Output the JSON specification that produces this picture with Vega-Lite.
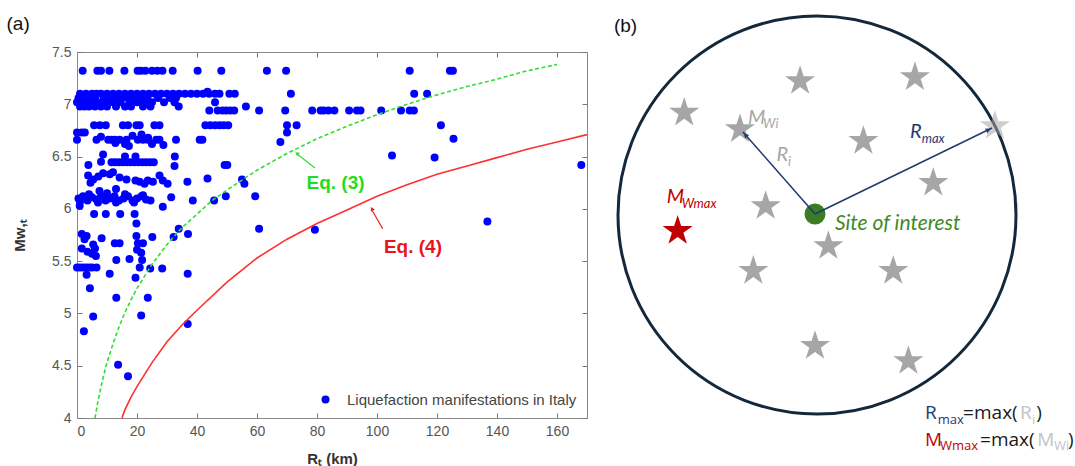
{
"$schema": "https://vega.github.io/schema/vega-lite/v6.json",
"padding": {"left": 6, "top": 10, "right": 0, "bottom": 0},
"background": "white",
"bounds": "flush",
"spacing": 18,
"resolve": {"scale": {"color": "independent"}, "legend": {"color": "independent"}},
"config": {"view": {"stroke": null}, "font": "Liberation Sans"},
"datasets": {
"pts": [
{"r":1.9,"m":7.32},{"r":6.8,"m":7.32},{"r":8.0,"m":7.32},{"r":10.8,"m":7.32},{"r":15.8,"m":7.32},{"r":20.2,"m":7.32},{"r":21.3,"m":7.32},{"r":22.8,"m":7.32},{"r":25.0,"m":7.32},{"r":26.8,"m":7.32},{"r":28.5,"m":7.32},{"r":31.9,"m":7.32},{"r":40.2,"m":7.32},{"r":48.1,"m":7.32},{"r":63.3,"m":7.32},{"r":69.7,"m":7.32},{"r":110.9,"m":7.32},{"r":124.3,"m":7.32},{"r":125.3,"m":7.32},
{"r":43.5,"m":7.12},
{"r":1,"m":7.1},{"r":3,"m":7.1},{"r":5,"m":7.1},{"r":6.5,"m":7.1},{"r":8,"m":7.1},{"r":10,"m":7.1},{"r":12,"m":7.1},{"r":14,"m":7.1},{"r":16,"m":7.1},{"r":18,"m":7.1},{"r":20,"m":7.1},{"r":22,"m":7.1},{"r":24,"m":7.1},{"r":26,"m":7.1},{"r":28,"m":7.1},{"r":30,"m":7.1},{"r":32,"m":7.1},{"r":34,"m":7.1},{"r":36,"m":7.1},{"r":38,"m":7.1},{"r":40,"m":7.1},{"r":42,"m":7.1},{"r":44,"m":7.1},{"r":46,"m":7.1},{"r":47.5,"m":7.1},{"r":50.8,"m":7.1},{"r":52.6,"m":7.1},{"r":71.3,"m":7.1},{"r":112.4,"m":7.1},{"r":116.7,"m":7.1},
{"r":0.5,"m":7.06},{"r":2,"m":7.06},{"r":4,"m":7.06},{"r":6,"m":7.06},{"r":9,"m":7.06},{"r":11,"m":7.06},{"r":13,"m":7.06},{"r":15,"m":7.06},{"r":17,"m":7.06},{"r":19,"m":7.06},{"r":21,"m":7.06},{"r":23.5,"m":7.06},{"r":27,"m":7.06},{"r":31,"m":7.06},{"r":33,"m":7.06},
{"r":0,"m":7.02},{"r":1.5,"m":7.02},{"r":3,"m":7.02},{"r":5,"m":7.02},{"r":7,"m":7.02},{"r":9.5,"m":7.02},{"r":12,"m":7.02},{"r":14.5,"m":7.02},{"r":17.5,"m":7.02},{"r":20,"m":7.02},{"r":22.5,"m":7.02},{"r":25,"m":7.02},{"r":29,"m":7.02},{"r":32.5,"m":7.02},{"r":46,"m":7.02},
{"r":1,"m":6.98},{"r":2.5,"m":6.98},{"r":4,"m":6.98},{"r":6,"m":6.98},{"r":8,"m":6.98},{"r":10,"m":6.98},{"r":13,"m":6.98},{"r":16,"m":6.98},{"r":18,"m":6.98},{"r":22,"m":6.98},{"r":24.5,"m":6.98},{"r":33.9,"m":6.98},{"r":56.3,"m":6.98},
{"r":44.1,"m":6.94},{"r":46.9,"m":6.94},{"r":48.5,"m":6.94},{"r":49.8,"m":6.94},{"r":51.1,"m":6.94},{"r":52.4,"m":6.94},{"r":60.7,"m":6.94},{"r":69.4,"m":6.94},{"r":78.4,"m":6.94},{"r":81.2,"m":6.94},{"r":82.2,"m":6.94},{"r":83.8,"m":6.94},{"r":85.8,"m":6.94},{"r":90.7,"m":6.94},{"r":93.3,"m":6.94},{"r":94.5,"m":6.94},{"r":101.4,"m":6.94},{"r":108,"m":6.94},{"r":110.9,"m":6.94},{"r":112.3,"m":6.94},
{"r":5.7,"m":6.8},{"r":7.6,"m":6.8},{"r":9.6,"m":6.8},{"r":15.3,"m":6.8},{"r":17.0,"m":6.8},{"r":19.8,"m":6.8},{"r":20.9,"m":6.8},{"r":25.8,"m":6.8},{"r":27.5,"m":6.8},{"r":42.8,"m":6.8},{"r":44.4,"m":6.8},{"r":46.0,"m":6.8},{"r":47.5,"m":6.8},{"r":48.9,"m":6.8},{"r":50.4,"m":6.8},{"r":70.0,"m":6.8},{"r":73.2,"m":6.8},{"r":121.3,"m":6.8},
{"r":0,"m":6.73},{"r":1.6,"m":6.73},{"r":2.6,"m":6.73},{"r":70,"m":6.73},
{"r":0,"m":6.66},{"r":6.5,"m":6.66},{"r":10.4,"m":6.66},{"r":11.5,"m":6.66},{"r":12.6,"m":6.66},{"r":14.2,"m":6.66},{"r":16.5,"m":6.66},{"r":20.3,"m":6.66},{"r":22.0,"m":6.66},{"r":23.6,"m":6.66},{"r":26.4,"m":6.66},{"r":27.5,"m":6.66},{"r":33.0,"m":6.66},{"r":40.9,"m":6.66},{"r":41.8,"m":6.66},{"r":67.8,"m":6.64},{"r":125.5,"m":6.67},
{"r":12.8,"m":6.63},{"r":16,"m":6.62},{"r":17.3,"m":6.6},{"r":21.5,"m":6.71},{"r":23.7,"m":6.68},{"r":25,"m":6.62},{"r":28.8,"m":6.61},{"r":8,"m":6.69},{"r":18.5,"m":6.7},
{"r":8.7,"m":6.52},{"r":16,"m":6.5},{"r":19.5,"m":6.5},{"r":32.6,"m":6.5},{"r":105,"m":6.51},{"r":119.2,"m":6.49},
{"r":11.5,"m":6.445},{"r":12.7,"m":6.445},{"r":14,"m":6.445},{"r":15.3,"m":6.445},{"r":16.6,"m":6.445},{"r":17.9,"m":6.445},{"r":19.2,"m":6.445},{"r":20.5,"m":6.445},{"r":21.8,"m":6.445},{"r":23.1,"m":6.445},{"r":24.4,"m":6.445},{"r":25.6,"m":6.445},
{"r":3.8,"m":6.42},{"r":8,"m":6.45},{"r":32.5,"m":6.41},{"r":49.2,"m":6.42},{"r":50.1,"m":6.42},{"r":168.1,"m":6.42},
{"r":3.7,"m":6.32},{"r":5.4,"m":6.28},{"r":7.1,"m":6.31},{"r":8.7,"m":6.34},{"r":10.9,"m":6.33},{"r":14.2,"m":6.3},{"r":16.5,"m":6.28},{"r":20.9,"m":6.26},{"r":22.5,"m":6.24},{"r":23.6,"m":6.27},{"r":25.3,"m":6.26},{"r":27.5,"m":6.32},{"r":28.6,"m":6.27},{"r":30.2,"m":6.24},{"r":36.8,"m":6.26},{"r":43.5,"m":6.29},{"r":55,"m":6.28},{"r":55.8,"m":6.24},{"r":4.5,"m":6.25},{"r":12,"m":6.35},{"r":19.5,"m":6.27},
{"r":0.5,"m":6.1},{"r":2,"m":6.12},{"r":3.5,"m":6.08},{"r":5,"m":6.11},{"r":6.5,"m":6.09},{"r":8,"m":6.12},{"r":9.5,"m":6.08},{"r":11,"m":6.1},{"r":12.5,"m":6.12},{"r":14,"m":6.08},{"r":15.5,"m":6.1},{"r":17,"m":6.12},{"r":18.5,"m":6.08},{"r":20,"m":6.1},{"r":21.5,"m":6.12},{"r":23,"m":6.09},{"r":24.5,"m":6.08},{"r":1,"m":6.07},{"r":4,"m":6.14},{"r":7,"m":6.06},{"r":10,"m":6.15},{"r":13,"m":6.06},{"r":16,"m":6.14},{"r":19,"m":6.06},{"r":22,"m":6.13},{"r":7.5,"m":6.17},{"r":13,"m":6.19},
{"r":31.4,"m":6.11},{"r":38.6,"m":6.08},{"r":45.7,"m":6.08},{"r":49.6,"m":6.12},{"r":59.4,"m":6.12},
{"r":0.9,"m":6.03},{"r":28.6,"m":6.02},
{"r":5.7,"m":5.95},{"r":9.6,"m":5.95},{"r":14.4,"m":5.95},{"r":19.2,"m":5.95},
{"r":19.8,"m":5.86},{"r":33.9,"m":5.81},{"r":60.7,"m":5.81},{"r":79.3,"m":5.8},{"r":136.8,"m":5.88},{"r":37,"m":5.76},{"r":32.2,"m":5.73},
{"r":1.6,"m":5.76},{"r":3.2,"m":5.74},{"r":2.5,"m":5.71},{"r":5.4,"m":5.66},{"r":6,"m":5.62},{"r":8.2,"m":5.72},{"r":12.6,"m":5.67},{"r":14.2,"m":5.67},{"r":19.8,"m":5.74},{"r":20.3,"m":5.67},{"r":22,"m":5.67},{"r":25.1,"m":5.73},
{"r":1.6,"m":5.62},{"r":3.5,"m":5.59},{"r":5,"m":5.57},{"r":6.3,"m":5.55},{"r":20,"m":5.61},{"r":21.4,"m":5.58},
{"r":0,"m":5.44},{"r":1,"m":5.44},{"r":2,"m":5.44},{"r":3,"m":5.44},{"r":4,"m":5.44},{"r":5,"m":5.44},{"r":6.5,"m":5.44},{"r":3.2,"m":5.37},{"r":10.9,"m":5.38},{"r":13.1,"m":5.51},{"r":17.5,"m":5.52},{"r":19.5,"m":5.34},{"r":20.9,"m":5.44},{"r":21.7,"m":5.51},{"r":24.4,"m":5.43},{"r":28.4,"m":5.43},{"r":36.9,"m":5.38},
{"r":4.3,"m":5.24},{"r":13.1,"m":5.15},{"r":23.6,"m":5.15},{"r":5.4,"m":4.97},{"r":21.4,"m":4.98},{"r":2.3,"m":4.83},{"r":36.9,"m":4.9},{"r":13.7,"m":4.51},{"r":17,"m":4.4}
],
"eq3": [
{"r":6,"m":4.0},{"r":7,"m":4.16},{"r":8,"m":4.3},{"r":9,"m":4.42},{"r":10,"m":4.53},{"r":12,"m":4.71},{"r":14,"m":4.87},{"r":16,"m":5.01},{"r":18,"m":5.13},{"r":20,"m":5.24},{"r":25,"m":5.47},{"r":30,"m":5.66},{"r":35,"m":5.82},{"r":40,"m":5.95},{"r":45,"m":6.08},{"r":50,"m":6.18},{"r":60,"m":6.37},{"r":70,"m":6.53},{"r":80,"m":6.67},{"r":90,"m":6.79},{"r":100,"m":6.9},{"r":110,"m":7.0},{"r":120,"m":7.09},{"r":130,"m":7.17},{"r":140,"m":7.24},{"r":150,"m":7.32},{"r":160,"m":7.38}
],
"eq4": [
{"r":15,"m":4.0},{"r":16,"m":4.08},{"r":18,"m":4.2},{"r":20,"m":4.3},{"r":25,"m":4.53},{"r":30,"m":4.73},{"r":35,"m":4.89},{"r":40,"m":5.03},{"r":50,"m":5.3},{"r":60,"m":5.53},{"r":70,"m":5.71},{"r":80,"m":5.86},{"r":90,"m":5.99},{"r":100,"m":6.12},{"r":110,"m":6.23},{"r":120,"m":6.33},{"r":130,"m":6.41},{"r":140,"m":6.49},{"r":150,"m":6.57},{"r":160,"m":6.64},{"r":170,"m":6.71}
],
"arr3": [{"r":79.3,"m":6.39,"r2":73.6,"m2":6.52}],
"head3": [{"r":73.3,"m":6.53}],
"arr4": [{"r":101.9,"m":5.81,"r2":98.5,"m2":5.98}],
"head4": [{"r":98.3,"m":6.0}],
"lab3": [{"r":76.5,"m":6.25,"t":"Eq. (3)"}],
"lab4": [{"r":102.3,"m":5.64,"t":"Eq. (4)"}],
"ring": [{"u":0,"v":0}],
"site": [{"u":-0.01,"v":0.005}],
"stars": [
{"u":-0.085,"v":0.673},{"u":0.492,"v":0.693},{"u":-0.667,"v":0.514},{"u":-0.387,"v":0.431},{"u":0.233,"v":0.372},{"u":0.584,"v":0.162},{"u":-0.258,"v":0.045},{"u":0.057,"v":-0.156},{"u":-0.32,"v":-0.281},{"u":0.383,"v":-0.281},{"u":-0.01,"v":-0.658},{"u":0.459,"v":-0.734}
],
"edgestar": [{"u":0.894,"v":0.447}],
"maxstar": [{"u":-0.7,"v":-0.08}],
"rays": [{"u":-0.01,"v":0.005,"u2":-0.372,"v2":0.417},{"u":-0.01,"v":0.005,"u2":0.879,"v2":0.437}],
"head1": [{"u":-0.359,"v":0.402}],
"head2": [{"u":0.861,"v":0.428}],
"blab": [{"u":-1.02,"v":0.92,"t":"(b)"}],
"lab_it": [
{"u":-0.347,"v":0.457,"t":"M","c":"gray"},{"u":-0.203,"v":0.271,"t":"R","c":"gray"},{"u":0.467,"v":0.388,"t":"R","c":"navy"},{"u":-0.755,"v":0.062,"t":"M","c":"red"}
],
"site_lab": [{"u":0.09,"v":-0.077,"t":"Site of interest","c":"green"}],
"sub_it": [
{"u":-0.271,"v":0.437,"t":"Wi","c":"gray"},{"u":-0.146,"v":0.246,"t":"i","c":"gray"},{"u":0.526,"v":0.363,"t":"max","c":"navy"},{"u":-0.68,"v":0.037,"t":"Wmax","c":"red"}
],
"lab_n": [
{"u":0.543,"v":-1.025,"t":"R","c":"navy"},{"u":0.734,"v":-1.025,"t":"=max(","c":"black"},{"u":1.02,"v":-1.025,"t":"R","c":"light"},{"u":1.101,"v":-1.025,"t":")","c":"black"},
{"u":0.543,"v":-1.161,"t":"M","c":"red"},{"u":0.819,"v":-1.161,"t":"=max(","c":"black"},{"u":1.106,"v":-1.161,"t":"M","c":"light"},{"u":1.261,"v":-1.161,"t":")","c":"black"}
],
"sub_n": [
{"u":0.606,"v":-1.05,"t":"max","c":"navy"},{"u":1.08,"v":-1.05,"t":"i","c":"light"},{"u":0.618,"v":-1.181,"t":"Wmax","c":"red"},{"u":1.191,"v":-1.181,"t":"Wi","c":"light"}
]
},
"hconcat": [
{
"width": 510, "height": 366,
"title": {"text": "(a)", "anchor": "start", "frame": "bounds", "fontSize": 19, "fontWeight": "normal", "font": "Liberation Sans", "color": "#111", "offset": 11, "dx": -6},
"resolve": {"axis": {"x": "independent", "y": "independent"}},
"layer": [
{
"data": {"name": "pts"},
"mark": {"type": "point", "filled": true, "size": 64, "opacity": 1},
"encoding": {
"x": {"field": "r", "type": "quantitative", "scale": {"domain": [0, 170], "nice": false, "zero": false},
 "axis": {"orient": "bottom", "values": [0,20,40,60,80,100,120,140,160], "title": "Rₜ (km)", "titleFont": "Liberation Sans", "titleFontSize": 15, "titleFontWeight": "bold", "titleColor": "#333", "labelFont": "Liberation Sans", "labelFontSize": 14, "labelColor": "#555", "tickSize": -5, "tickColor": "#777", "domainColor": "#888", "labelPadding": 11, "titlePadding": 13, "grid": false}},
"y": {"field": "m", "type": "quantitative", "scale": {"domain": [4, 7.5], "nice": false, "zero": false},
 "axis": {"orient": "left", "values": [4,4.5,5,5.5,6,6.5,7,7.5], "format": "~g", "title": "Mᴡ,ₜ", "titleFont": "Liberation Sans", "titleFontSize": 15, "titleFontWeight": "bold", "titleColor": "#333", "labelFont": "Liberation Sans", "labelFontSize": 14, "labelColor": "#555", "tickSize": -5, "tickColor": "#777", "domainColor": "#888", "labelPadding": 11, "titlePadding": 24, "grid": false}},
"color": {"datum": "Liquefaction manifestations in Italy", "scale": {"range": ["#0000ff"]},
 "legend": {"orient": "bottom-right", "title": null, "labelFont": "Liberation Sans", "labelFontSize": 15, "labelColor": "#444", "labelLimit": 400, "symbolSize": 64, "symbolType": "circle", "labelOffset": 14, "offset": 7, "padding": 3}}
}
},
{
"data": {"name": "eq3"},
"mark": {"type": "line", "color": "#2ee02e", "strokeWidth": 1.6, "strokeDash": [4, 2.5]},
"encoding": {
"x": {"field": "r", "type": "quantitative", "axis": {"orient": "top", "values": [0,20,40,60,80,100,120,140,160], "labels": false, "title": null, "tickSize": -5, "tickColor": "#777", "domainColor": "#888", "grid": false}},
"y": {"field": "m", "type": "quantitative", "axis": {"orient": "right", "values": [4,4.5,5,5.5,6,6.5,7,7.5], "labels": false, "title": null, "tickSize": -5, "tickColor": "#777", "domainColor": "#888", "grid": false}}
}
},
{
"data": {"name": "eq4"},
"mark": {"type": "line", "color": "#ff3030", "strokeWidth": 1.6},
"encoding": {"x": {"field": "r", "type": "quantitative", "axis": null}, "y": {"field": "m", "type": "quantitative", "axis": null}}
},
{
"data": {"name": "arr3"},
"mark": {"type": "rule", "color": "#2ee02e", "strokeWidth": 1.2},
"encoding": {"x": {"field": "r", "type": "quantitative", "axis": null}, "y": {"field": "m", "type": "quantitative", "axis": null}, "x2": {"field": "r2"}, "y2": {"field": "m2"}}
},
{
"data": {"name": "head3"},
"mark": {"type": "point", "shape": "triangle-up", "filled": true, "size": 22, "angle": 308, "color": "#2ee02e", "opacity": 1},
"encoding": {"x": {"field": "r", "type": "quantitative", "axis": null}, "y": {"field": "m", "type": "quantitative", "axis": null}}
},
{
"data": {"name": "arr4"},
"mark": {"type": "rule", "color": "#ee1c1c", "strokeWidth": 1.2},
"encoding": {"x": {"field": "r", "type": "quantitative", "axis": null}, "y": {"field": "m", "type": "quantitative", "axis": null}, "x2": {"field": "r2"}, "y2": {"field": "m2"}}
},
{
"data": {"name": "head4"},
"mark": {"type": "point", "shape": "triangle-up", "filled": true, "size": 22, "angle": 330, "color": "#ee1c1c", "opacity": 1},
"encoding": {"x": {"field": "r", "type": "quantitative", "axis": null}, "y": {"field": "m", "type": "quantitative", "axis": null}}
},
{
"data": {"name": "lab3"},
"mark": {"type": "text", "font": "Liberation Sans", "fontSize": 19, "fontWeight": "bold", "color": "#22dd22", "align": "left", "baseline": "middle"},
"encoding": {"x": {"field": "r", "type": "quantitative", "axis": null}, "y": {"field": "m", "type": "quantitative", "axis": null}, "text": {"field": "t"}}
},
{
"data": {"name": "lab4"},
"mark": {"type": "text", "font": "Liberation Sans", "fontSize": 19, "fontWeight": "bold", "color": "#e8141e", "align": "left", "baseline": "middle"},
"encoding": {"x": {"field": "r", "type": "quantitative", "axis": null}, "y": {"field": "m", "type": "quantitative", "axis": null}, "text": {"field": "t"}}
}
]
},
{
"width": 470, "height": 366,
"encoding": {
"x": {"field": "u", "type": "quantitative", "scale": {"domain": [-1.065, 1.296], "nice": false, "zero": false}, "axis": null},
"y": {"field": "v", "type": "quantitative", "scale": {"domain": [-1.0201, 0.8191], "nice": false, "zero": false}, "axis": null}
},
"layer": [
{"data": {"name": "ring"}, "mark": {"type": "point", "filled": false, "size": 158404, "color": "#13283b", "strokeWidth": 3, "opacity": 1}},
{"data": {"name": "stars"}, "mark": {"type": "point", "filled": true, "size": 1000, "opacity": 1, "color": "#a6a6a6", "shape": "M0,-1L0.2245,-0.309L0.951,-0.309L0.363,0.118L0.588,0.809L0,0.382L-0.588,0.809L-0.363,0.118L-0.951,-0.309L-0.2245,-0.309Z"}},
{"data": {"name": "edgestar"}, "mark": {"type": "point", "filled": true, "size": 1000, "opacity": 0.55, "color": "#a6a6a6", "shape": "M0,-1L0.2245,-0.309L0.951,-0.309L0.363,0.118L0.588,0.809L0,0.382L-0.588,0.809L-0.363,0.118L-0.951,-0.309L-0.2245,-0.309Z"}},
{"data": {"name": "maxstar"}, "mark": {"type": "point", "filled": true, "size": 1000, "opacity": 1, "color": "#c00000", "shape": "M0,-1L0.2245,-0.309L0.951,-0.309L0.363,0.118L0.588,0.809L0,0.382L-0.588,0.809L-0.363,0.118L-0.951,-0.309L-0.2245,-0.309Z"}},
{"data": {"name": "site"}, "mark": {"type": "point", "filled": true, "size": 441, "opacity": 1, "color": "#3a7d22"}},
{"data": {"name": "rays"}, "mark": {"type": "rule", "color": "#1f3a70", "strokeWidth": 1.5}, "encoding": {"x2": {"field": "u2"}, "y2": {"field": "v2"}}},
{"data": {"name": "head1"}, "mark": {"type": "point", "shape": "triangle-up", "filled": true, "size": 30, "angle": 319, "color": "#1f3a70", "opacity": 1}},
{"data": {"name": "head2"}, "mark": {"type": "point", "shape": "triangle-up", "filled": true, "size": 30, "angle": 64, "color": "#1f3a70", "opacity": 1}},
{"data": {"name": "blab"}, "mark": {"type": "text", "font": "Liberation Sans", "fontSize": 19, "color": "#111", "align": "left", "baseline": "alphabetic"}, "encoding": {"text": {"field": "t"}}},
{"data": {"name": "lab_it"}, "mark": {"type": "text", "font": "Lato", "fontSize": 20, "fontStyle": "italic", "align": "left", "baseline": "alphabetic"},
 "encoding": {"text": {"field": "t"}, "color": {"field": "c", "type": "nominal", "scale": {"domain": ["gray","navy","red","green","black","light"], "range": ["#a6a6a6","#1f3a70","#c00000","#3f8a2a","#1a1a1a","#c4c4c4"]}, "legend": null}}},
{"data": {"name": "site_lab"}, "mark": {"type": "text", "font": "Lato", "fontSize": 21, "fontStyle": "italic", "align": "left", "baseline": "alphabetic"},
 "encoding": {"text": {"field": "t"}, "color": {"field": "c", "type": "nominal", "legend": null}}},
{"data": {"name": "sub_it"}, "mark": {"type": "text", "font": "Lato", "fontSize": 13, "fontStyle": "italic", "align": "left", "baseline": "alphabetic"},
 "encoding": {"text": {"field": "t"}, "color": {"field": "c", "type": "nominal", "legend": null}}},
{"data": {"name": "lab_n"}, "mark": {"type": "text", "font": "Open Sans", "fontSize": 19, "align": "left", "baseline": "alphabetic"},
 "encoding": {"text": {"field": "t"}, "color": {"field": "c", "type": "nominal", "legend": null}}},
{"data": {"name": "sub_n"}, "mark": {"type": "text", "font": "Open Sans", "fontSize": 13, "align": "left", "baseline": "alphabetic"},
 "encoding": {"text": {"field": "t"}, "color": {"field": "c", "type": "nominal", "legend": null}}}
]
}
]
}
